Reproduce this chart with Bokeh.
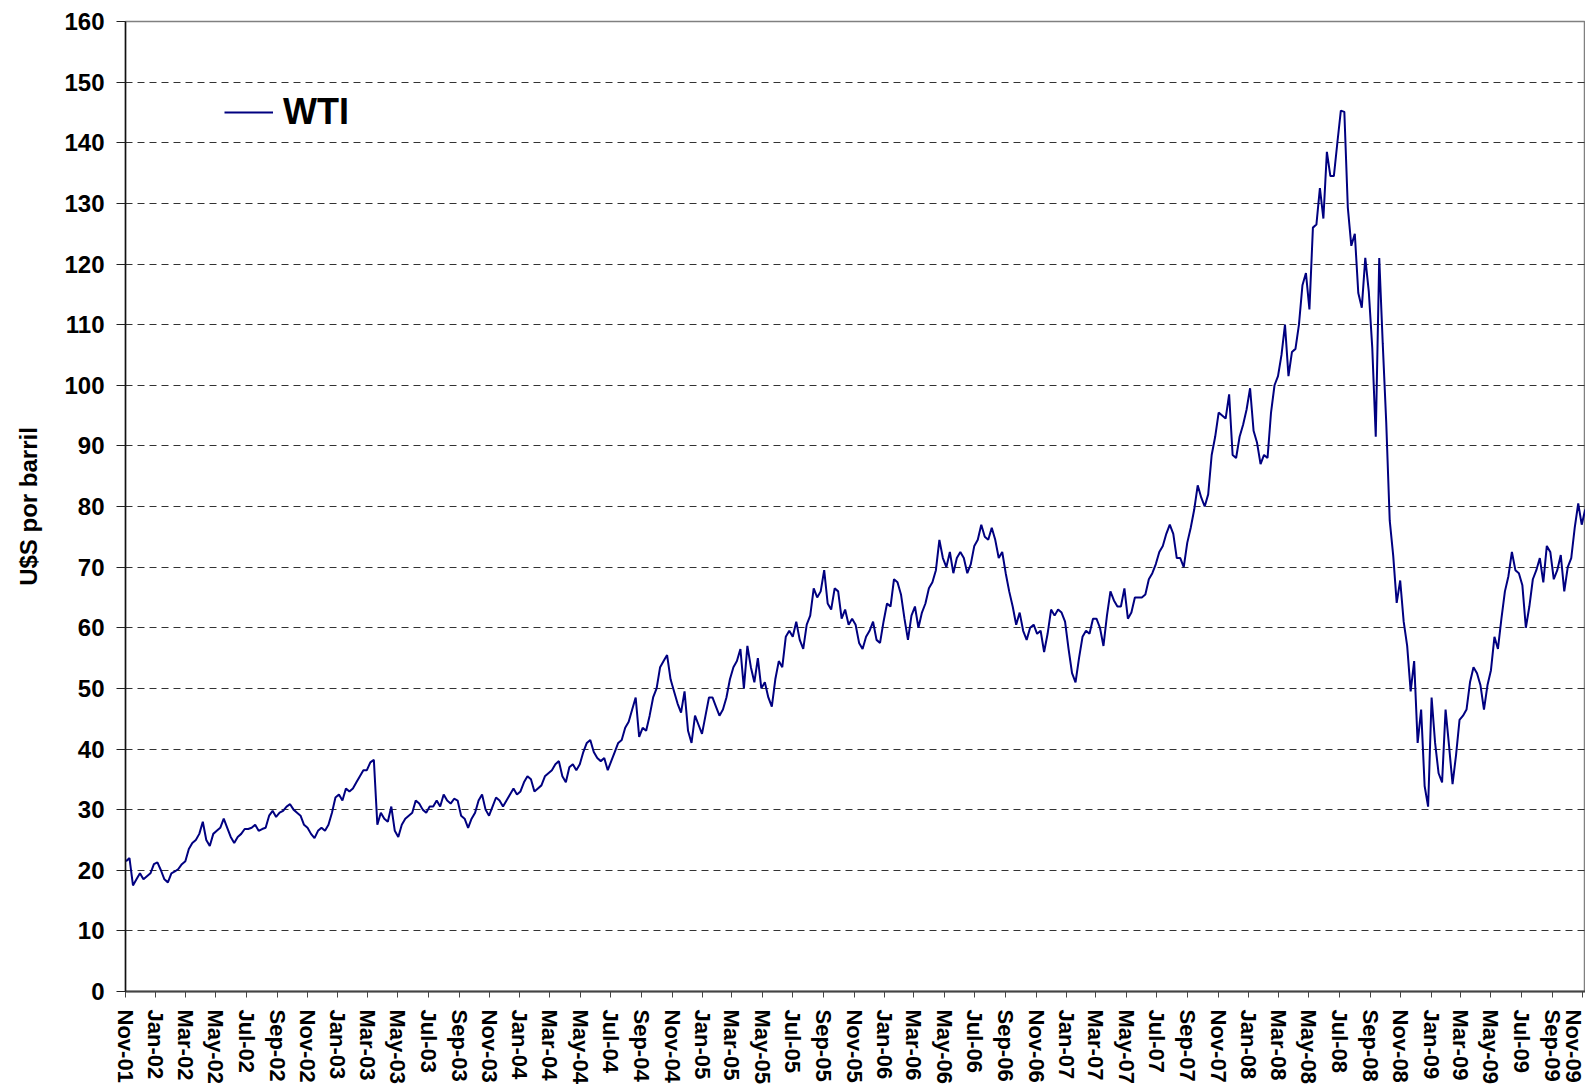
import pandas as pd
from datetime import datetime
from bokeh.plotting import figure
from bokeh.models import (ColumnDataSource, Range1d, FixedTicker, DatetimeTickFormatter,
                          Legend, LegendItem)
from bokeh.embed import file_html
from bokeh.resources import INLINE

# Weekly (Friday) WTI spot values, US$ per barrel
wti_2001 = [21.5, 22.0, 17.5, 18.5, 19.5, 18.5, 19.0, 19.5, 21.0]
wti_2002 = [21.3, 20.0, 18.5, 18.0,
            19.5, 19.8, 20.2, 21.0,
            21.5, 23.5, 24.5, 25.0, 26.0,
            28.0, 25.0, 24.0, 26.0,
            26.5, 27.0, 28.5, 27.0, 25.5,
            24.5, 25.5, 26.0, 26.8,
            26.8, 27.0, 27.5, 26.5,
            26.8, 27.0, 29.0, 29.8, 28.8,
            29.5, 29.8, 30.5, 30.9,
            30.0, 29.5, 29.0, 27.5,
            27.0, 26.0, 25.3, 26.5, 27.0,
            26.5, 27.5, 29.5, 32.0]
wti_2003 = [32.5, 31.5, 33.5, 33.0, 33.5,
            34.5, 35.5, 36.5, 36.5,
            37.8, 38.2, 27.5, 29.5,
            28.5, 28.0, 30.5, 26.5,
            25.5, 27.5, 28.5, 29.0, 29.5,
            31.5, 31.0, 30.0, 29.5,
            30.5, 30.5, 31.5, 30.5,
            32.5, 31.5, 31.0, 31.8, 31.5,
            29.0, 28.5, 27.0, 28.5,
            29.5, 31.5, 32.5, 30.0, 29.0,
            30.5, 32.0, 31.5, 30.5,
            31.5, 32.5, 33.5, 32.5]
wti_2004 = [33.0, 34.5, 35.5, 35.0, 33.0,
            33.5, 34.0, 35.5, 36.0,
            36.5, 37.5, 38.0, 35.5,
            34.5, 37.0, 37.5, 36.5, 37.5,
            39.5, 41.0, 41.5, 39.5,
            38.5, 38.0, 38.5, 36.5,
            38.0, 39.5, 41.0, 41.5, 43.5,
            44.5, 46.5, 48.5, 42.0,
            43.5, 43.0, 45.5, 48.5,
            50.0, 53.5, 54.5, 55.5, 51.5,
            49.5, 47.5, 46.0, 49.5,
            43.0, 41.0, 45.5, 44.0, 42.5]
wti_2005 = [45.5, 48.5, 48.5, 47.0,
            45.5, 46.5, 48.5, 51.5,
            53.5, 54.5, 56.5, 50.0,
            57.0, 53.5, 51.0, 55.0, 50.0,
            51.0, 48.5, 47.0, 51.5,
            54.5, 53.5, 58.5, 59.5,
            58.5, 61.0, 58.0, 56.5, 60.5,
            62.0, 66.5, 65.0, 66.0,
            69.5, 64.0, 63.0, 66.5, 66.0,
            61.5, 63.0, 60.5, 61.5,
            60.5, 57.5, 56.5, 58.5,
            59.5, 61.0, 58.0, 57.5, 61.0]
wti_2006 = [64.0, 63.5, 68.0, 67.5,
            65.5, 61.5, 58.0, 62.0,
            63.5, 60.0, 62.5, 64.0, 66.5,
            67.5, 69.5, 74.5, 71.5,
            70.0, 72.5, 69.0, 71.5,
            72.5, 71.5, 69.0, 70.5, 73.5,
            74.5, 77.0, 75.0, 74.5,
            76.5, 74.5, 71.5, 72.5,
            69.0, 66.0, 63.5, 60.5, 62.5,
            59.5, 58.0, 60.0, 60.5,
            59.0, 59.5, 56.0, 59.0,
            63.0, 62.0, 63.0, 62.5, 61.0]
wti_2007 = [56.5, 52.5, 51.0, 55.0,
            58.5, 59.5, 59.0, 61.5,
            61.5, 60.0, 57.0, 62.0, 66.0,
            64.5, 63.5, 63.5, 66.5,
            61.5, 62.5, 65.0, 65.0,
            65.0, 65.5, 68.0, 69.0, 70.5,
            72.5, 73.5, 75.5, 77.0,
            75.5, 71.5, 71.5, 70.0, 74.0,
            76.5, 79.5, 83.5, 81.5,
            80.0, 82.0, 88.5, 91.5,
            95.5, 95.0, 94.5, 98.5, 88.5,
            88.0, 91.5, 93.5, 96.0]
wti_2008 = [99.5, 92.5, 90.5, 87.0,
            88.5, 88.0, 95.5, 100.0, 101.5,
            105.0, 110.0, 101.5, 105.5,
            106.0, 110.0, 116.5, 118.5,
            112.5, 126.0, 126.5, 132.5, 127.5,
            138.5, 134.5, 134.5, 140.0,
            145.3, 145.1, 129.3, 123.0,
            125.0, 115.2, 112.8, 121.0, 115.5,
            106.2, 91.5, 121.0, 106.9,
            93.9, 77.7, 71.9, 64.1, 67.8,
            61.0, 57.0, 49.5, 54.5,
            41.0, 46.5, 33.9, 30.5]
wti_2009 = [48.5, 41.0, 36.0, 34.5, 46.5,
            40.5, 34.2, 39.0, 44.8,
            45.5, 46.5, 51.0, 53.5,
            52.5, 50.5, 46.5, 50.5,
            53.0, 58.5, 56.5, 61.5, 66.0,
            68.5, 72.5, 69.5, 69.0,
            67.0, 60.0, 63.5, 68.0, 69.5,
            71.5, 67.5, 73.5, 72.5,
            68.0, 69.5, 72.0, 66.0,
            70.0, 71.5, 76.5, 80.5, 77.0,
            79.5]

wti = (wti_2001 + wti_2002 + wti_2003 + wti_2004 + wti_2005 +
       wti_2006 + wti_2007 + wti_2008 + wti_2009)
dates = pd.date_range("2001-11-02", periods=len(wti), freq="W-FRI")

y_ticks = list(range(0, 161, 10))
x_ticks = pd.date_range("2001-11-01", "2009-11-01", freq="2MS")
series_name = "WTI"
y_title = "U$S por barril"

FONT = "Liberation Sans"

src = ColumnDataSource(data=dict(date=dates, wti=wti))

p = figure(width=1585, height=1087, x_axis_type="datetime",
           output_backend="svg", toolbar_location=None,
           x_range=Range1d(datetime(2001, 11, 1), datetime(2009, 11, 6, 14)),
           y_range=Range1d(0, 160),
           min_border_left=125, min_border_top=21, min_border_right=0,
           min_border_bottom=96)
p.background_fill_color = "white"
p.border_fill_color = "white"
p.outline_line_color = "#808080"
p.outline_line_width = 1.5

r = p.line("date", "wti", source=src, line_color="#000080", line_width=2)

# y axis
p.yaxis.ticker = FixedTicker(ticks=y_ticks)
p.yaxis.minor_tick_line_color = None
p.yaxis.major_tick_out = 9
p.yaxis.major_tick_in = 0
p.yaxis.major_tick_line_color = "#222222"
p.yaxis.axis_line_color = "#111111"
p.yaxis.axis_line_width = 1.5
p.yaxis.major_label_standoff = 12
p.yaxis.major_label_text_font = FONT
p.yaxis.major_label_text_font_style = "bold"
p.yaxis.major_label_text_font_size = "24px"
p.yaxis.major_label_text_color = "black"
p.yaxis.axis_label = y_title
p.yaxis.axis_label_text_font = FONT
p.yaxis.axis_label_text_font_style = "bold"
p.yaxis.axis_label_text_font_size = "24px"
p.yaxis.axis_label_text_color = "black"
p.yaxis.axis_label_standoff = 19

# x axis
p.xaxis.ticker = FixedTicker(ticks=[t.value // 10**6 for t in x_ticks])
fmt = "%b-%y"
p.xaxis.formatter = DatetimeTickFormatter(
    years=fmt, months=fmt, days=fmt, hours=fmt, minutes=fmt, seconds=fmt,
    milliseconds=fmt, microseconds=fmt, hourmin=fmt, minsec=fmt)
p.xaxis.minor_tick_line_color = None
p.xaxis.major_tick_out = 6
p.xaxis.major_tick_in = 0
p.xaxis.major_tick_line_color = "#444444"
p.xaxis.axis_line_color = "#444444"
p.xaxis.axis_line_width = 2
p.xaxis.major_label_orientation = "vertical"
p.xaxis.major_label_standoff = 12
p.xaxis.major_label_text_font = FONT
p.xaxis.major_label_text_font_style = "bold"
p.xaxis.major_label_text_font_size = "22px"
p.xaxis.major_label_text_color = "black"

# grid
p.xgrid.visible = False
p.ygrid.ticker = FixedTicker(ticks=y_ticks)
p.ygrid.grid_line_color = "#333333"
p.ygrid.grid_line_width = 1
p.ygrid.grid_line_dash = "7 5"

legend = Legend(items=[LegendItem(label=series_name, renderers=[r])],
                location=(99, 858), padding=0, margin=0, spacing=0,
                border_line_alpha=0, background_fill_alpha=0,
                glyph_width=49, glyph_height=36, label_standoff=10,
                label_text_font=FONT, label_text_font_style="bold",
                label_text_font_size="36px", label_text_color="black")
p.add_layout(legend)

open("out.html", "w").write(file_html(p, INLINE))
